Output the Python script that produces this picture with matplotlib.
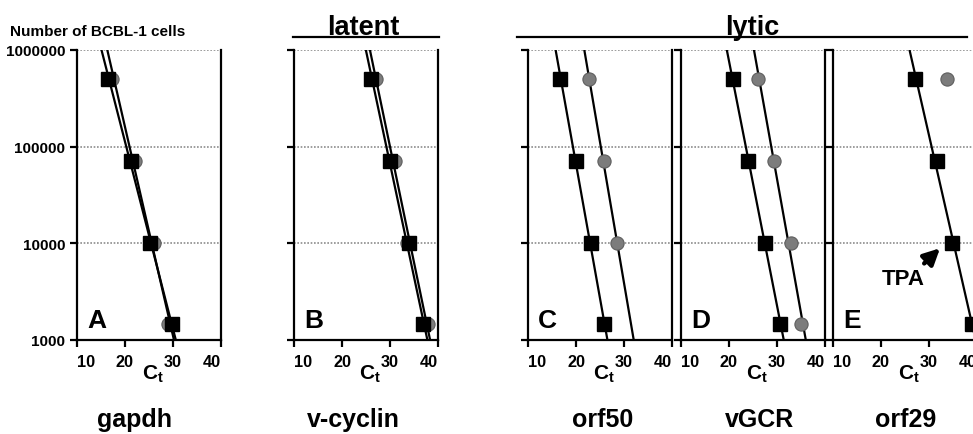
import numpy as np
import matplotlib.pyplot as plt
from matplotlib.ticker import FixedLocator, NullLocator

narrow = ['Liberation Sans Narrow', 'Liberation Sans', 'DejaVu Sans']
plt.rcParams['font.family'] = ['Liberation Sans', 'DejaVu Sans']
plt.rcParams['font.weight'] = 'bold'
plt.rcParams['mathtext.fontset'] = 'custom'
plt.rcParams['mathtext.rm'] = 'Liberation Sans:bold'
plt.rcParams['mathtext.it'] = 'Liberation Sans:bold'
plt.rcParams['mathtext.bf'] = 'Liberation Sans:bold'

# data
cells = [500000, 71400, 10200, 1460]
genes = ['gapdh', 'v-cyclin', 'orf50', 'vGCR', 'orf29']
letters = ['A', 'B', 'C', 'D', 'E']
ct_square = [
    [16.5, 21.3, 25.3, 29.7],
    [26.1, 29.9, 33.9, 36.8],
    [16.7, 20.0, 23.1, 25.8],
    [20.8, 23.9, 27.6, 30.7],
    [27.1, 31.7, 34.8, 39.0],
]
ct_circle = [
    [17.3, 22.0, 26.0, 29.0],
    [27.0, 31.0, 33.6, 37.9],
    [22.7, 25.8, 28.5, np.nan],
    [26.1, 29.3, 33.0, 35.0],
    [33.8, np.nan, np.nan, np.nan],
]
circle_fit = [True, True, True, True, False]
y_ticks = [1000, 10000, 100000, 1000000]
y_labels = ['1000', '10000', '100000', '1000000']
x_ticks = [10, 20, 30, 40]

W, H = 973, 435
def fx(x):
    return x / W
def fy(y):
    return 1 - y / H

fig = plt.figure(figsize=(W / 100, H / 100), dpi=100)

panel_left = [77, 294, 528, 681, 833]
name_x = [135, 353, 603, 760, 906]

logn = np.log10(cells)
yy = np.logspace(3, 6, 50)

for i in range(5):
    ax = fig.add_axes([fx(panel_left[i]), fy(341), 144 / W, 290 / H])
    ax.set_yscale('log')
    ax.set_xlim(10, 40)
    ax.set_ylim(1000, 1000000)

    # regression lines
    sq = np.array(ct_square[i])
    fit = np.polyfit(logn, sq, 1)
    ax.plot(np.polyval(fit, np.log10(yy)), yy, color='k', lw=1.6, zorder=2)
    ci = np.array(ct_circle[i])
    if circle_fit[i]:
        ok = ~np.isnan(ci)
        fit = np.polyfit(logn[ok], ci[ok], 1)
        ax.plot(np.polyval(fit, np.log10(yy)), yy, color='k', lw=1.6, zorder=2)

    ax.plot(ci, cells, 'o', ms=9.5, mfc='#7c7c7c', mec='#5e5e5e', mew=0.8, zorder=3)
    ax.plot(sq, cells, 's', ms=9.5, color='k', zorder=4)

    ax.yaxis.set_major_locator(FixedLocator(y_ticks))
    ax.yaxis.set_minor_locator(NullLocator())
    ax.set_xticks(x_ticks, labels=[str(t) for t in x_ticks])
    ax.grid(axis='y', color='0.55', lw=1.2, ls=(0, (1, 1)))
    ax.spines['top'].set_visible(False)
    for s in ['left', 'right', 'bottom']:
        ax.spines[s].set_linewidth(1.6)
    ax.tick_params(axis='both', direction='out', width=1.6)
    ax.tick_params(axis='y', length=5, labelsize=11)
    ax.tick_params(axis='x', length=5, pad=5, labelsize=11.7)
    for lab in ax.get_xticklabels():
        lab.set_family(narrow)
    xl = ax.get_xticklabels()
    xl[0].set_ha('left')
    xl[-1].set_ha('right')
    if i == 0:
        ax.set_yticklabels(y_labels)
    else:
        ax.set_yticklabels([])

    ax.text(0.07, 0.045, letters[i], transform=ax.transAxes, fontsize=19,
            va='baseline', ha='left')
    ax.text(0.53, -0.135, r'$\mathbf{C_t}$', transform=ax.transAxes,
            fontsize=15, ha='center', va='baseline')
    fig.text(fx(name_x[i]), fy(427), genes[i], fontsize=18, ha='center',
             va='baseline')

    if i == 4:
        ax.annotate('', xy=(32.3, 8900), xytext=(29.0, 6200),
                    arrowprops=dict(arrowstyle='-|>', color='k', lw=3.2,
                                    mutation_scale=24, shrinkA=0, shrinkB=0))
        ax.text(24.7, 3800, 'TPA', ha='center', va='baseline', fontsize=16,
                family=narrow)

# header
fig.text(fx(10), fy(36), 'Number of BCBL-1 cells', fontsize=11, va='baseline')
fig.text(fx(363), fy(35), 'latent', fontsize=19.5, ha='center', va='baseline',
         family=narrow)
fig.text(fx(752), fy(35), 'lytic', fontsize=19.5, ha='center', va='baseline',
         family=narrow)
fig.add_artist(plt.Line2D([fx(293), fx(439)], [fy(38), fy(38)], color='k', lw=1.6))
fig.add_artist(plt.Line2D([fx(517), fx(967)], [fy(38), fy(38)], color='k', lw=1.6))

fig.savefig('out.png', dpi=100)
